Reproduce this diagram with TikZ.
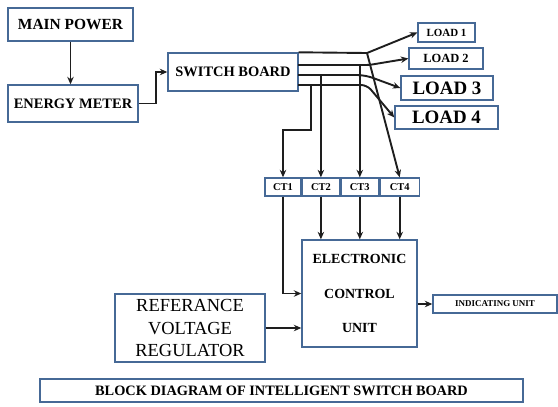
\documentclass[tikz,border=0pt]{standalone}
\usepackage{fontspec}
\setmainfont{Liberation Serif}
\usetikzlibrary{positioning, arrows.meta}
\definecolor{boxblue}{RGB}{70,105,150}
\definecolor{wirecol}{RGB}{30,30,30}

\begin{document}
\begin{tikzpicture}[> = {Stealth[length=7.5bp, width=6.5bp]}, x=1bp, y=-1bp,
    box/.style={draw=boxblue, line width=1.4bp, fill=white, inner sep=0pt, align=center},
    ctbox/.style={box, minimum height=18bp, font=\bfseries\fontsize{10.5}{12}\selectfont},
    wire/.style={draw=wirecol, line width=1.9bp}]
    \useasboundingbox (0,0) rectangle (558,406);

    \node[box, minimum width=125bp, minimum height=33bp, font=\bfseries\fontsize{15.5}{17}\selectfont] (mainpower) at (70.5,24.5) {MAIN POWER};
    \node[box, minimum width=130bp, minimum height=37bp, font=\bfseries\fontsize{14.5}{16}\selectfont] (energymeter) at (73,103.5) {ENERGY METER};
    \node[box, minimum width=130bp, minimum height=38bp, font=\bfseries\fontsize{14.5}{16}\selectfont] (switchboard) at (233,72) {SWITCH BOARD};

    \node[box, minimum width=57bp, minimum height=19bp, font=\bfseries\fontsize{11}{12}\selectfont] (load1) at (446.5,32.5) {LOAD 1};
    \node[box, minimum width=74bp, minimum height=21bp, font=\bfseries\fontsize{12.5}{14}\selectfont] (load2) at (446,58.5) {LOAD 2};
    \node[box, minimum width=92bp, minimum height=24bp, font=\bfseries\fontsize{19}{21}\selectfont] (load3) at (447,88) {LOAD 3};
    \node[box, minimum width=103bp, minimum height=23bp, font=\bfseries\fontsize{19}{21}\selectfont] (load4) at (446.5,117.5) {LOAD 4};

    \node[ctbox, minimum width=36bp] (ct1) at (283,187) {CT1};
    \node[ctbox, minimum width=37bp, right=0pt of ct1] (ct2) {CT2};
    \node[ctbox, minimum width=38bp, right=0pt of ct2] (ct3) {CT3};
    \node[ctbox, minimum width=39bp, right=0pt of ct3] (ct4) {CT4};

    \node[box, minimum width=115bp, minimum height=107bp, font=\bfseries\fontsize{14}{34.5}\selectfont] (ecu) at (359.5,293.5) {ELECTRONIC\\CONTROL\\UNIT};
    \node[box, minimum width=150bp, minimum height=68bp, font=\fontsize{18.5}{23}\selectfont] (refvolt) at (190,328) {REFERANCE\\VOLTAGE\\REGULATOR};
    \node[box, minimum width=124bp, minimum height=18bp, font=\bfseries\fontsize{9}{10}\selectfont] (indicating) at (495,304) {INDICATING UNIT};
    \node[box, minimum width=483bp, minimum height=23bp, font=\bfseries\fontsize{14.4}{16}\selectfont] (title) at (281.5,390.5) {BLOCK DIAGRAM OF INTELLIGENT SWITCH BOARD};

    % supply side
    \draw[wire, ->] (mainpower.south) -- (mainpower.south |- energymeter.north);
    \draw[wire, ->] (energymeter.east) -- ++(17,0) |- (switchboard.west);

    % lines out of the switch board
    \coordinate (s2) at (298,65);
    \coordinate (s3) at (298,75);
    \coordinate (s4) at (298,85);
    \coordinate (j1) at (367,53);
    \coordinate (j2) at (369,65);
    \coordinate (j3) at (365,75);
    \coordinate (j4) at (367,85);
    \coordinate (k1) at (311,85);
    \coordinate (k2) at (311,130);

    \draw[wire] (switchboard.north east) -- (j1);
    \draw[wire, ->] (j1) -- (load1.west);
    \draw[wire, ->] (j1) -- (ct4.north);
    \draw[wire, ->, rounded corners=3pt] (s2) -- (j2) -- (load2.west);
    \draw[wire, ->] (ct3.north |- s2) -- (ct3.north);
    \draw[wire, ->, rounded corners=8pt] (s3) -- (j3) -- (load3.west);
    \draw[wire, ->] (ct2.north |- s3) -- (ct2.north);
    \draw[wire, ->, rounded corners=6pt] (s4) -- (j4) -- (load4.west);
    \draw[wire, ->] (k1) -- (k2) -| (ct1.north);

    % into the control unit
    \draw[wire, ->] (ct1.south) |- (ecu.west);
    \foreach \c in {ct2, ct3, ct4}
        \draw[wire, ->] (\c.south) -- (\c.south |- ecu.north);
    \draw[wire, ->] (refvolt.east) -- (refvolt.east -| ecu.west);
    \draw[wire, ->] (ecu.east |- indicating.west) -- (indicating.west);
\end{tikzpicture}
\end{document}
